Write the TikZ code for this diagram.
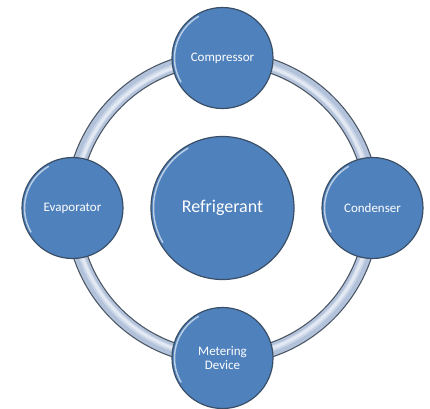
\documentclass[tikz,border=0pt]{standalone}
\usepackage{fontspec}
\setmainfont{Carlito}
\usepackage{tikz}

\definecolor{partblue}{HTML}{4F81BD}
\definecolor{partedge}{HTML}{3A4F66}
\definecolor{ringfill}{HTML}{B2C2DA}
\definecolor{ringglow}{HTML}{E2E9F3}
\definecolor{ringedge}{HTML}{4A5563}

\tikzset{
    part/.style={circle, draw=partedge, line width=1.2pt, fill=partblue,
        text=white, minimum size=101pt, inner sep=0pt, align=center,
        font=\fontsize{13}{14}\selectfont},
    core/.style={part, minimum size=143pt, font=\fontsize{18}{20}\selectfont}
}

\begin{document}
\begin{tikzpicture}[x=1pt, y=-1pt]
    \useasboundingbox (0,0) rectangle (430,408);
    \coordinate (hub) at (222.5,208);

    % the ring that joins the four parts
    \draw[line width=15pt, ringedge] (hub) circle (150);
    \draw[line width=12.6pt, ringfill] (hub) circle (150);
    \draw[line width=6pt, ringfill!50!ringglow] (hub) circle (149);
    \draw[line width=3pt, ringglow] (hub) circle (148.5);

    \node[core] (refr) at (hub) {Refrigerant};
    \node[part] (comp) at (222.5,58) {Compressor};
    \node[part] (cond) at (372.5,208) {Condenser};
    \node[part] (meter) at (222.5,358) {Metering\\Device};
    \node[part] (evap) at (72.5,208) {Evaporator};

    % light rim on the left of each circle
    \foreach \n/\r in {refr/69, comp/48, cond/48, meter/48, evap/48}
        \draw[line width=1.5pt, white!60!partblue, line cap=round]
            (\n.center) ++(150:\r) arc (150:240:\r);
\end{tikzpicture}
\end{document}
